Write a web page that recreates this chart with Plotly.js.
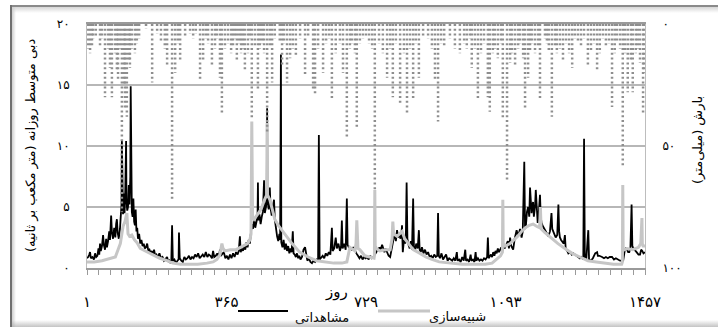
<!DOCTYPE html>
<html><head><meta charset="utf-8">
<script src="https://cdn.plot.ly/plotly-3.0.1.min.js"></script>
<style>
html,body{margin:0;padding:0;background:#fff;width:718px;height:327px;overflow:hidden;}
#wrap{position:relative;width:718px;height:327px;}
#chart{position:absolute;left:0;top:0;width:718px;height:327px;}
.fr{position:absolute;pointer-events:none;}
</style></head><body>
<div id="wrap">
<div id="chart"></div>
<div class="fr" style="left:10px;top:5px;width:708px;height:2px;background:#8a8a8a"></div>
<div class="fr" style="left:12px;top:7px;width:706px;height:6px;background:linear-gradient(#d6d6d6,rgba(255,255,255,0))"></div>
<div class="fr" style="left:10px;top:5px;width:2px;height:322px;background:#707070"></div>
<div class="fr" style="left:12px;top:7px;width:4px;height:320px;background:linear-gradient(90deg,#cfcfcf,rgba(255,255,255,0))"></div>
<div class="fr" style="left:12px;top:320px;width:706px;height:7px;background:linear-gradient(rgba(255,255,255,0),rgba(170,170,170,0.7))"></div>
</div>
<script>
// ---- data ----
const obsDay=[
1,4,7,9,11,15,19,22,25,28,
31,33,35,37,40,43,45,48,51,53,
56,59,61,64,66,69,72,75,77,79,
81,84,87,89,91,92,93,95,97,99,
101,103,104,106,108,110,112,114,115,116,
118,120,122,124,126,128,130,132,134,137,
140,143,146,149,152,155,158,161,164,167,
170,173,176,179,182,186,190,194,198,202,
206,210,213,216,219,221,223,225,229,233,
237,240,241,243,247,251,255,259,263,267,
271,275,279,283,287,291,295,299,303,307,
311,315,319,323,327,330,333,337,341,345,
348,350,354,358,
362,366,370,374,378,382,386,390,394,397,
400,402,405,408,411,414,417,420,423,426,
429,432,434,437,440,443,446,447,448,451,
454,457,460,463,465,468,470,471,472,475,
478,480,483,486,489,491,494,497,500,503,
505,507,508,511,514,517,520,523,526,529,
532,535,538,540,543,546,549,552,555,558,
562,566,570,573,576,580,584,588,592,596,
600,604,606,608,612,616,620,624,628,632,
636,640,642,646,650,653,657,661,664,666,
668,672,676,679,681,684,688,692,696,700,
704,708,712,716,720,724,728,
732,736,740,744,748,752,756,758,761,764,
767,771,774,777,780,784,788,792,795,798,
801,804,807,810,813,816,819,822,823,825,
828,831,833,835,837,840,843,846,849,852,
854,857,860,864,867,869,872,875,879,883,
887,891,895,899,903,907,911,915,917,919,
922,926,930,934,938,942,946,950,954,958,
962,966,968,972,976,980,984,988,990,994,
998,1002,1004,1008,1012,1015,1017,1021,1025,1029,
1033,1037,1041,1045,1047,1049,1052,1055,1058,1061,
1064,1067,1070,1073,1076,1079,1082,1085,1088,1091,
1095,1099,1102,1105,1108,1113,1117,1122,1126,1131,
1135,1138,1142,1144,1146,1149,1152,1155,1157,1159,
1161,1163,1165,1167,1170,1172,1175,1177,1180,1183,
1185,1187,1191,1196,1200,1205,1209,1213,1215,1218,
1221,1224,1228,1231,1233,1235,1238,1241,1245,1248,
1250,1254,1257,1262,1266,1270,1274,1279,1283,1287,
1291,1296,1298,1300,1304,1309,1311,1316,1321,1327,
1332,1334,1338,1342,1345,1350,1355,1360,1365,1371,
1376,1381,1386,1392,1396,1400,1404,1407,1410,1413,
1416,1419,1422,1424,1427,1431,1435,1440,1444,1447,
1450,1453,1457];
const obsQ=[
0.8,0.9,1.1,1.3,0.8,0.9,0.7,1.2,0.9,1.0,
1.6,1.1,2.0,1.4,1.8,2.7,1.9,1.5,2.4,1.7,
2.2,3.0,2.3,4.3,2.9,2.4,3.3,2.5,3.6,4.0,
2.9,2.4,3.2,4.8,5.2,10.5,5.6,4.4,6.1,4.5,
6.5,10.4,5.5,4.7,5.0,6.8,5.2,7.5,14.9,6.2,
4.6,4.2,5.7,3.8,3.5,4.8,3.0,3.3,2.4,2.8,
2.0,2.3,1.8,2.0,1.6,1.7,2.0,1.4,1.5,1.2,
1.4,1.1,1.5,1.0,1.1,0.9,1.2,0.8,0.9,0.6,
0.8,0.9,0.5,0.6,0.4,0.5,3.5,0.6,0.7,0.4,
0.6,0.7,2.9,0.8,0.6,0.5,0.9,0.7,0.8,1.0,
0.7,0.9,0.8,1.1,0.9,1.2,0.8,1.0,1.1,0.9,
1.3,0.9,1.1,1.0,0.8,1.4,0.9,1.0,1.2,0.9,
1.5,1.0,1.2,1.3,
0.8,1.0,0.7,1.1,0.8,1.2,0.9,1.3,1.1,1.4,
2.6,1.3,1.6,1.4,1.9,1.5,2.1,1.7,2.3,2.0,
3.0,3.6,3.2,4.0,3.3,3.8,4.2,7.0,3.9,4.4,
3.6,4.2,4.6,7.2,4.5,5.0,5.5,13.1,5.6,4.8,
6.6,4.9,4.3,5.0,5.6,4.0,3.0,2.6,2.2,2.8,
2.3,17.5,2.1,1.7,2.3,1.5,2.0,1.4,1.8,1.2,
1.6,1.3,3.0,1.2,1.1,0.9,1.2,0.8,1.0,0.7,
0.9,1.5,1.7,0.9,0.6,0.8,0.5,0.4,0.6,0.5,
0.7,0.6,10.9,0.7,0.9,1.0,0.8,1.2,1.0,1.3,
1.1,3.3,1.4,1.6,2.5,1.6,2.0,1.4,1.8,3.9,
1.6,2.0,1.5,5.7,1.9,1.7,1.6,1.5,1.7,1.4,
1.2,1.0,0.8,1.0,0.7,0.9,0.8,
0.9,0.7,1.0,0.8,0.9,1.1,1.3,1.6,1.4,1.7,
1.5,1.9,1.6,1.3,1.6,1.2,1.0,0.9,1.5,2.0,
2.4,2.8,2.2,3.1,2.5,2.8,2.4,3.0,3.5,1.3,
2.3,2.0,2.6,7.0,2.4,1.9,1.6,2.2,1.5,5.7,
1.8,1.4,2.0,1.6,3.1,1.5,1.3,1.7,1.2,1.5,
1.1,1.3,0.9,1.0,0.8,1.1,0.9,1.0,4.5,1.0,
0.8,1.2,0.7,0.9,1.1,0.6,0.8,0.7,0.6,0.8,
0.6,1.3,0.6,0.7,0.5,0.9,0.6,1.5,0.6,0.7,
0.5,1.1,0.6,0.7,0.5,1.3,0.6,0.8,0.6,0.7,
0.6,0.8,0.7,0.9,2.5,0.8,1.0,1.1,0.9,1.3,
1.0,1.4,1.2,1.6,1.3,1.5,1.7,1.4,1.8,1.6,
1.9,2.2,1.6,2.5,1.8,1.5,2.4,3.1,2.6,3.2,
2.5,3.0,8.7,3.2,3.4,4.6,5.0,4.2,6.6,4.8,
4.5,5.2,5.4,4.2,5.0,6.4,4.8,3.7,4.6,6.0,
4.2,3.7,3.4,3.1,2.8,2.6,3.0,4.5,3.2,2.9,
2.6,2.5,2.7,5.2,3.0,2.5,2.3,2.2,2.0,2.7,
1.6,1.4,1.2,1.3,1.1,1.2,1.1,1.0,0.9,0.8,
0.9,0.7,10.6,0.7,0.8,3.1,0.7,0.6,0.8,1.2,
1.3,1.0,1.0,0.9,0.9,0.8,0.9,0.8,0.9,0.9,
0.7,0.8,0.7,0.6,0.6,0.6,1.4,1.6,1.5,1.3,
1.3,1.7,5.2,1.8,1.6,1.4,1.3,1.1,1.1,1.5,
1.4,1.2,1.3];
const simDay=[
1,20,40,60,75,82,88,95,100,105,
108,112,118,125,131,140,158,175,191,210,
225,245,262,290,314,330,340,348,353,356,
361,375,390,408,420,426,429,431,433,437,
445,455,463,468,470,471,472,478,485,491,
500,510,523,536,556,578,600,622,645,666,
679,687,700,703,705,708,713,726,740,750,
751,752,753,756,765,780,792,797,799,801,
810,823,830,840,852,870,885,901,920,950,
980,1010,1040,1058,1070,1080,1085,1086,1087,1092,
1105,1115,1125,1135,1145,1155,1165,1175,1182,1184,
1186,1196,1214,1230,1248,1267,1287,1308,1330,1350,
1375,1396,1398,1399,1400,1404,1410,1425,1440,1446,
1448,1449,1450,1452,1457];
const simQ=[
0.5,0.5,0.6,0.8,0.9,1.5,2.0,3.4,3.8,4.5,
2.8,2.6,2.7,2.3,2.1,1.6,1.3,1.0,0.8,0.6,
0.4,0.3,0.3,0.3,0.4,0.5,0.7,1.1,2.0,1.6,
1.4,1.5,1.5,1.8,2.0,2.3,2.8,12.0,4.2,4.0,
4.4,4.8,5.5,5.8,6.0,11.9,6.0,5.6,4.6,4.0,
3.5,3.1,2.6,2.0,1.3,0.9,0.6,0.5,0.4,0.4,
0.5,1.7,1.4,2.0,3.9,1.6,1.5,1.0,0.9,0.8,
1.0,6.4,1.8,1.6,1.4,1.5,1.5,2.4,3.8,2.8,
2.6,3.0,2.4,2.0,1.5,1.2,0.9,0.7,0.5,0.4,
0.3,0.3,0.3,0.4,0.7,1.0,1.3,5.6,2.0,1.8,
2.0,2.3,2.6,3.0,3.3,3.5,3.6,3.4,3.3,5.0,
3.2,2.9,2.4,2.0,1.6,1.2,0.9,0.6,0.5,0.4,
0.3,0.3,0.5,6.8,1.6,1.5,1.6,1.5,1.7,2.0,
3.0,4.1,2.0,1.8,1.8];
const rainDay=[
4,9,14,17,24,35,40,48,56,61,
66,74,79,82,87,92,98,100,105,111,
113,118,126,131,137,155,171,184,194,204,
210,223,231,238,244,257,270,278,285,296,
304,311,317,327,335,340,348,353,361,369,
377,382,387,392,398,403,408,413,421,426,
431,439,447,452,458,463,471,478,484,491,
504,510,515,523,531,538,546,557,570,578,
591,596,604,617,625,633,640,650,661,669,
679,687,692,700,705,713,721,729,737,745,
752,763,773,784,792,799,807,818,828,836,
844,852,859,867,878,891,901,909,917,925,
933,948,961,974,985,992,1000,1005,1013,1021,
1029,1037,1047,1052,1060,1065,1073,1081,1086,1097,
1105,1110,1118,1126,1131,1139,1144,1152,1157,1162,
1170,1178,1183,1196,1201,1206,1214,1222,1227,1235,
1243,1251,1259,1267,1274,1282,1290,1298,1308,1316,
1324,1332,1339,1347,1355,1363,1371,1378,1384,1392,
1399,1405,1412,1420,1425,1433,1438,1444,1452,1454];
const rainMm=[
10,12,9,6,5,9,6,30,10,18,
30,12,19,23,10,77,25,35,38,15,
18,10,12,8,6,2,24,4,7,10,
17,72,20,8,15,5,4,6,4,23,
15,6,8,17,10,6,22,37,10,8,
12,9,6,15,8,12,10,19,12,6,
39,9,27,10,8,12,45,9,24,6,
7,17,8,24,14,10,13,6,21,5,
27,29,10,20,8,6,31,12,8,20,
47,10,8,12,43,8,6,5,8,10,
68,8,12,22,10,30,8,33,12,37,
10,31,8,22,5,6,10,23,40,8,
9,6,10,12,8,10,6,18,10,31,
12,8,30,36,12,10,14,8,39,65,
16,12,17,10,8,14,35,22,11,8,
12,9,31,6,8,11,38,9,12,10,
15,8,12,18,6,7,9,6,17,11,
8,19,12,6,9,8,34,12,7,10,
59,12,28,15,28,12,10,16,37,20];
const xTickVals=[1,365,729,1093,1457];
const xTickText=['۱','۳۶۵','۷۲۹','۱۰۹۳','۱۴۵۷'];
const yTickVals=[0,5,10,15,20];
const yTickText=['۰','۵','۱۰','۱۵','۲۰'];
const y2TickVals=[0,50,100];
const y2TickText=['۰','۵۰','۱۰۰'];
const seriesNames=['مشاهداتی','شبیه‌سازی'];
const xTitle='روز';
const yTitle='دبی متوسط روزانه (متر مکعب بر ثانیه)';
const y2Title='بارش (میلی‌متر)';

// ---- build traces ----
const rx=[],ry=[];
rainDay.forEach((d,i)=>{rx.push(d,d,null);ry.push(0,rainMm[i],null);});
const FONT='DejaVu Sans, Noto Sans, sans-serif';
const traces=[
 {x:rx,y:ry,yaxis:'y2',mode:'lines',line:{color:'#8e8e8e',width:2.5,dash:'2px,2.8px'},showlegend:false,hoverinfo:'skip',name:'rain'},
 {x:obsDay,y:obsQ,mode:'lines',line:{color:'#000',width:1.8},name:seriesNames[0]},
 {x:simDay,y:simQ,mode:'lines',line:{color:'#c6c6c6',width:3},name:seriesNames[1]}
];
const px=v=>(v-87)/558, py=v=>(268-v)/244;
const layout={
 width:718,height:327,margin:{l:87,r:73,t:24,b:59},
 paper_bgcolor:'#fff',plot_bgcolor:'#fff',showlegend:false,
 font:{family:FONT,color:'#000',size:12},
 xaxis:{range:[1,1457],tickvals:xTickVals,ticktext:xTickText,ticks:'outside',ticklen:5,tickwidth:1,tickcolor:'#9a9a9a',
   showline:true,mirror:true,linecolor:'#9a9a9a',linewidth:2,showgrid:false,zeroline:false,
   tickfont:{size:15,family:FONT},ticklabelstandoff:14,
   minor:{tick0:1,dtick:1456/48,ticks:'outside',ticklen:5,tickcolor:'#9a9a9a',tickwidth:1,showgrid:false}},
 yaxis:{range:[0,20],tickvals:yTickVals,ticktext:yTickText,showgrid:true,gridcolor:'#b7b7b7',gridwidth:1.5,
   showline:true,linecolor:'#bdbdbd',linewidth:1,zeroline:false,ticks:'',tickfont:{size:12,family:FONT},ticklabelstandoff:14},
 yaxis2:{overlaying:'y',side:'right',range:[100,0],tickvals:y2TickVals,ticktext:y2TickText,showgrid:false,
   showline:true,linecolor:'#bdbdbd',linewidth:1,zeroline:false,ticks:'',tickfont:{size:12,family:FONT},ticklabelstandoff:14},
 shapes:[
  {type:'line',xref:'paper',yref:'paper',x0:px(238),x1:px(288),y0:py(311),y1:py(311),line:{color:'#000',width:2}},
  {type:'line',xref:'paper',yref:'paper',x0:px(378),x1:px(430),y0:py(311),y1:py(311),line:{color:'#c6c6c6',width:3}}
 ],
 annotations:[
  {text:xTitle,xref:'paper',yref:'paper',x:px(336),y:py(303),showarrow:false,font:{size:15,family:FONT}},
  {text:yTitle,xref:'paper',yref:'paper',x:px(21),y:py(146),textangle:-90,showarrow:false,font:{size:13,family:FONT}},
  {text:y2Title,xref:'paper',yref:'paper',x:px(708),y:py(140),textangle:-90,showarrow:false,font:{size:13,family:FONT}},
  {text:seriesNames[0],xref:'paper',yref:'paper',x:px(322),y:py(317),yanchor:'middle',showarrow:false,font:{size:13,family:FONT}},
  {text:seriesNames[1],xref:'paper',yref:'paper',x:px(457),y:py(317),yanchor:'middle',showarrow:false,font:{size:13,family:FONT}}
 ]
};
Plotly.newPlot('chart',traces,layout,{staticPlot:true,displayModeBar:false});
</script>
</body></html>
